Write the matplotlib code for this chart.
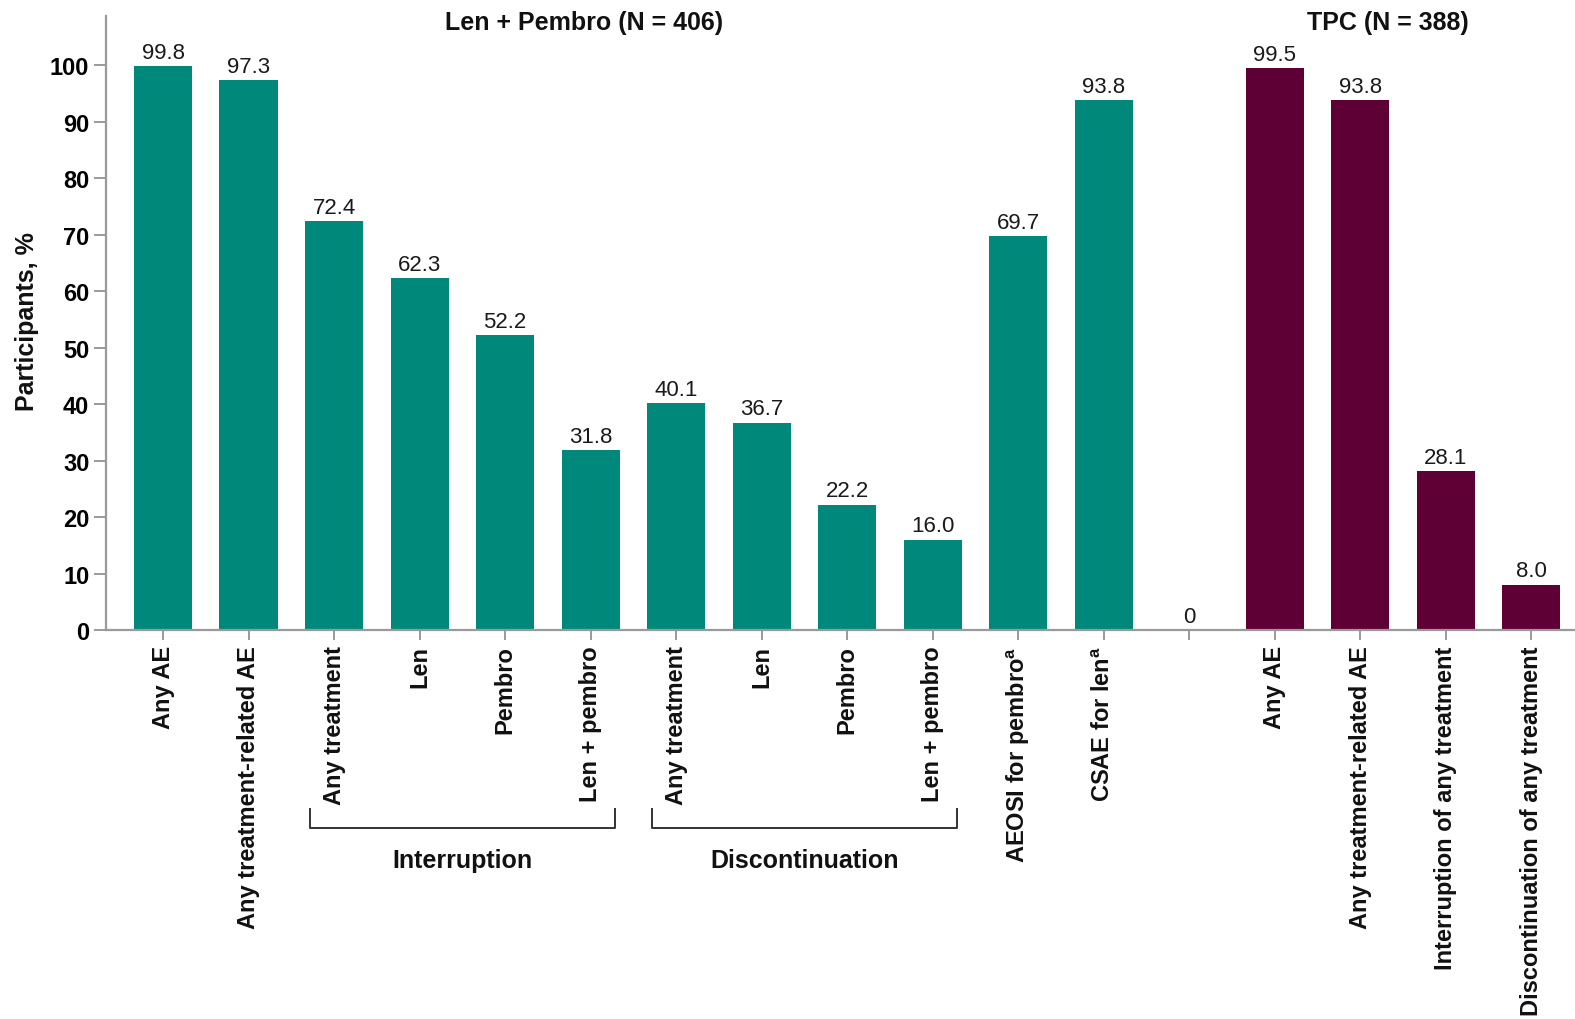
import matplotlib
matplotlib.use("Agg")
import matplotlib.pyplot as plt
import matplotlib.transforms as mtransforms

plt.rcParams["font.family"] = ["Liberation Sans", "DejaVu Sans"]
plt.rcParams["mathtext.fontset"] = "custom"
plt.rcParams["mathtext.rm"] = "Liberation Sans"
plt.rcParams["mathtext.it"] = "Liberation Sans:italic"
plt.rcParams["mathtext.bf"] = "Liberation Sans:bold"

# Category labels (the empty slot separates the two treatment arms)
categories = [
    "Any AE", "Any treatment-related AE",
    "Any treatment", "Len", "Pembro", "Len + pembro",
    "Any treatment", "Len", "Pembro", "Len + pembro",
    "AEOSI for pembro$^{\\mathregular{a}}$", "CSAE for len$^{\\mathregular{a}}$",
    "",
    "Any AE", "Any treatment-related AE",
    "Interruption of any treatment", "Discontinuation of any treatment",
]
values = [99.8, 97.3, 72.4, 62.3, 52.2, 31.8, 40.1, 36.7, 22.2, 16.0,
          69.7, 93.8, 0, 99.5, 93.8, 28.1, 8.0]
value_labels = ["99.8", "97.3", "72.4", "62.3", "52.2", "31.8", "40.1", "36.7",
                "22.2", "16.0", "69.7", "93.8", "0", "99.5", "93.8", "28.1", "8.0"]
arm = ["len_pembro"] * 12 + ["spacer"] + ["tpc"] * 4

arm_colors = {"len_pembro": "#00897A", "tpc": "#5E0036", "spacer": "#FFFFFF"}
arm_titles = [("Len + Pembro (N = 406)", 4.92), ("TPC (N = 388)", 14.32)]
brackets = [("Interruption", 2, 5), ("Discontinuation", 6, 9)]
yticks = list(range(0, 101, 10))

fig = plt.figure(figsize=(15.75, 10.2), dpi=100)
W, H = 1575, 1020
ax = fig.add_axes([106 / W, 1 - 631 / H, 1 - 106 / W, (631 - 17) / H])

x = list(range(len(values)))
colors = [arm_colors[a] for a in arm]
ax.bar(x, values, width=0.68, color=colors, zorder=2)

for xi, v, lab in zip(x, values, value_labels):
    ax.annotate(lab, (xi, v), xytext=(0, 6), textcoords="offset points",
                ha="center", va="baseline", fontsize=16, color="#1a1a1a")

ax.set_xlim(-0.667, 16.51)
ax.set_ylim(0, 108.7)

spine_color = "#9a9a9a"
for side in ("top", "right"):
    ax.spines[side].set_visible(False)
for side in ("left", "bottom"):
    ax.spines[side].set_color(spine_color)
    ax.spines[side].set_linewidth(1.6)

ax.set_yticks(yticks)
ax.set_yticklabels([str(t) for t in yticks], fontsize=17, fontweight="bold")
ax.tick_params(axis="y", length=9, width=1.4, color=spine_color, pad=3)
ax.set_xticks(x)
ax.set_xticklabels(categories, rotation=90, fontsize=17, fontweight="bold",
                   color="#111111")
ax.tick_params(axis="x", length=7, width=1.4, color=spine_color, pad=4)

# Arm titles above the bars
title_tr = mtransforms.blended_transform_factory(ax.transData, ax.transAxes)
for title, xc in arm_titles:
    ax.text(xc, (631 - 30) / 614, title, transform=title_tr, ha="center",
            va="baseline", fontsize=18, fontweight="bold", color="#111111")

# Brackets grouping the interruption / discontinuation bars
y_line = (631 - 829) / 614
y_end = (631 - 810) / 614
y_lab = (631 - 861) / 614
for name, i0, i1 in brackets:
    x0, x1 = i0 - 0.28, i1 + 0.28
    ax.plot([x0, x0, x1, x1], [y_end, y_line, y_line, y_end], transform=title_tr,
            color="#333333", lw=1.4, clip_on=False)
    ax.text((i0 + i1) / 2, y_lab, name, transform=title_tr, ha="center",
            va="center", fontsize=18, fontweight="bold", color="#111111")

fig.text(27 / W, 1 - 322 / H, "Participants, %", rotation=90, ha="center",
         va="center", fontsize=18, fontweight="bold", color="#111111")

fig.savefig("out.png", dpi=100)
